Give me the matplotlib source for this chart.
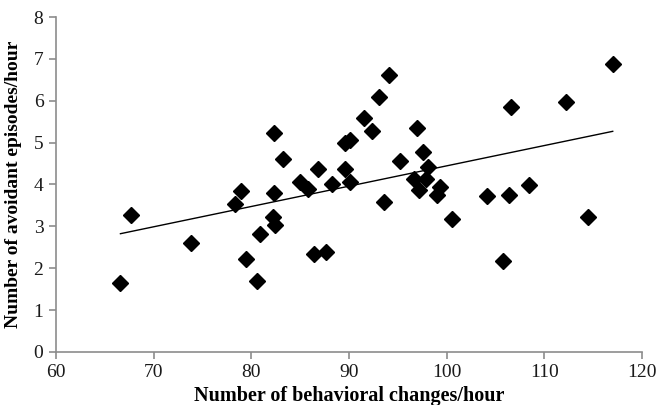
import matplotlib
matplotlib.use("Agg")
import matplotlib.pyplot as plt
import numpy as np

plt.rcParams['font.family'] = ['Liberation Serif', 'DejaVu Serif']

behavioral_changes = [66.6, 67.7, 73.8, 78.3, 78.9, 79.5, 80.6, 80.9, 82.2, 82.3,
                      82.3, 82.4, 83.2, 85.0, 85.8, 86.4, 86.8, 87.6, 88.3, 89.6,
                      89.6, 90.1, 90.1, 91.5, 92.4, 93.1, 93.6, 94.1, 95.2, 96.7,
                      97.0, 97.2, 97.6, 97.9, 98.1, 99.0, 99.3, 100.5, 104.1, 105.8,
                      106.4, 106.6, 108.4, 112.2, 114.5, 117.0]
avoidant_episodes = [1.65, 3.28, 2.60, 3.53, 3.85, 2.22, 1.70, 2.82, 3.22, 5.22,
                     3.80, 3.03, 4.60, 4.05, 3.90, 2.35, 4.37, 2.38, 4.00, 4.98,
                     4.37, 5.07, 4.07, 5.58, 5.27, 6.08, 3.58, 6.62, 4.55, 4.13,
                     5.35, 3.88, 4.77, 4.13, 4.42, 3.75, 3.93, 3.18, 3.72, 2.17,
                     3.75, 5.86, 3.98, 5.98, 3.22, 6.88]
x_ticks = [60, 70, 80, 90, 100, 110, 120]
y_ticks = [0, 1, 2, 3, 4, 5, 6, 7, 8]
x_label = "Number of behavioral changes/hour"
y_label = "Number of avoidant episodes/hour"

x = np.array(behavioral_changes)
y = np.array(avoidant_episodes)
slope, intercept = np.polyfit(x, y, 1)

fig = plt.figure(figsize=(6.57, 4.05), dpi=100)
ax = fig.add_axes([0.0852, 0.131, 0.892, 0.827])

ax.plot(x, y, linestyle='none', marker='D', ms=8.5, color='black', zorder=3)
xl = np.array([x.min(), x.max()])
ax.plot(xl, slope * xl + intercept, color='black', lw=1.0, zorder=2)

ax.set_xlim(60, 120)
ax.set_ylim(0, 8)
ax.set_xticks(x_ticks)
ax.set_yticks(y_ticks)
for s in ['top', 'right']:
    ax.spines[s].set_visible(False)
for s in ['left', 'bottom']:
    ax.spines[s].set_color('#8c8c8c')
    ax.spines[s].set_linewidth(1.2)
ax.tick_params(direction='out', length=5, width=1.2, color='#8c8c8c',
               labelsize=14, pad=4, labelcolor='#1a1a1a')
ax.set_xlabel(x_label, fontsize=14.5, fontweight='bold', labelpad=3)
ax.set_ylabel(y_label, fontsize=14, fontweight='bold', labelpad=8)

fig.savefig("out.png", dpi=100)
